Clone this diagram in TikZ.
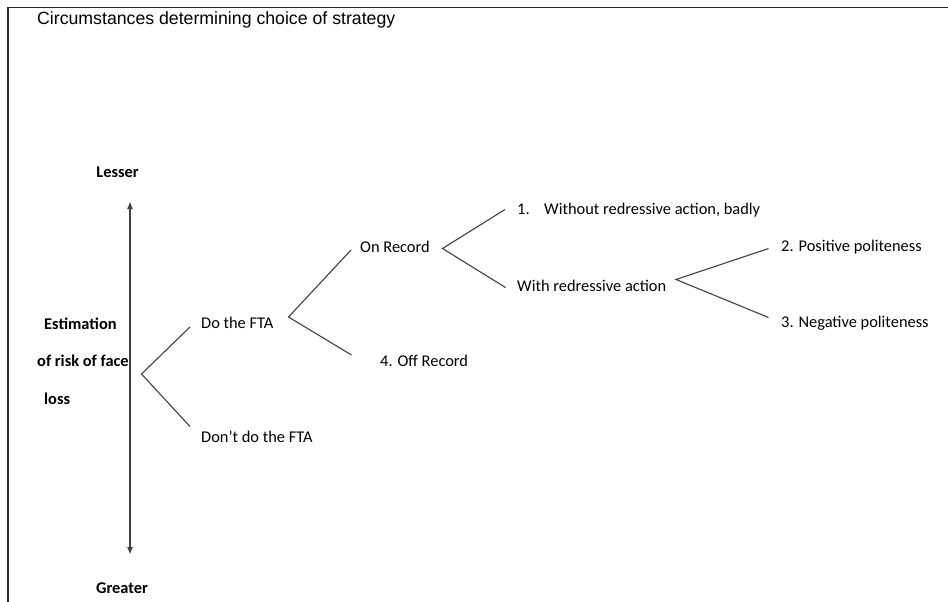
\documentclass[tikz,border=0pt]{standalone}
\usepackage{fontspec}
\setmainfont{Carlito}
\newfontfamily\arialfont{Liberation Sans}
\usetikzlibrary{arrows.meta}
\definecolor{linegray}{HTML}{404040}
\begin{document}
\begin{tikzpicture}[x=1pt,y=-1pt,
  lbl/.style={anchor=west,inner sep=0pt,font=\fontsize{16.4}{19}\selectfont,text=black},
  blbl/.style={lbl,font=\fontsize{16.4}{19}\selectfont\bfseries},
  branch/.style={draw=linegray,line width=1.1pt},
  frameline/.style={draw=black!85,line width=1.6pt},
  axis/.style={draw=linegray,line width=1.6pt,{Latex[length=8pt,width=6pt]}-{Latex[length=8pt,width=6pt]}}]
\useasboundingbox (0,0) rectangle (948,602);
\fill[white] (0,0) rectangle (948,602);
% frame
\coordinate (fbl) at (8,602);
\coordinate (ftl) at (8,7.5);
\coordinate (ftr) at (948,7.5);
\draw[frameline] (fbl) -- (ftl) -- (ftr);
% title
\node[anchor=west,inner sep=0pt,font=\arialfont\fontsize{17.7}{21}\selectfont] (title) at (37,20) {Circumstances determining choice of strategy};
% axis
\node[blbl,anchor=center] (lesser) at (117.5,172) {Lesser};
\node[blbl,anchor=center] (greater) at (122,588) {Greater};
\coordinate (atop) at (130,201);
\coordinate (abot) at (130,555);
\draw[axis] (atop) -- (abot);
\node[blbl] (est1) at (44,324) {Estimation};
\node[blbl] (est2) at (37,361) {of risk of face};
\node[blbl] (est3) at (44,399) {loss};
% labels
\node[lbl] (do) at (201,323) {Do the FTA};
\node[lbl] (dont) at (201,437) {Don’t do the FTA};
\node[lbl] (on) at (360,247) {On Record};
\node[lbl] (off) at (380,361) {4. Off Record};
\node[lbl] (without) at (517,210) {1.\hspace{14.6pt}Without redressive action, badly};
\node[lbl] (with) at (517,286) {With redressive action};
\node[lbl] (pos) at (781,247) {2. Positive politeness};
\node[lbl] (neg) at (781,323) {3. Negative politeness};
% branch points
\coordinate (v0) at (141.5,374);
\coordinate (v0a) at (190,327);
\coordinate (v0b) at (190,426.5);
\coordinate (v1) at (288.5,317);
\coordinate (v1a) at (351,250);
\coordinate (v1b) at (351.5,355);
\coordinate (v2) at (442.5,248.5);
\coordinate (v2a) at (505,209.5);
\coordinate (v2b) at (505.5,287.5);
\coordinate (v3) at (676,279.5);
\coordinate (v3a) at (768.5,248.5);
\coordinate (v3b) at (768.5,317.5);
\draw[branch] (v0a) -- (v0) -- (v0b);
\draw[branch] (v1a) -- (v1) -- (v1b);
\draw[branch] (v2a) -- (v2) -- (v2b);
\draw[branch] (v3a) -- (v3) -- (v3b);
\end{tikzpicture}
\end{document}
